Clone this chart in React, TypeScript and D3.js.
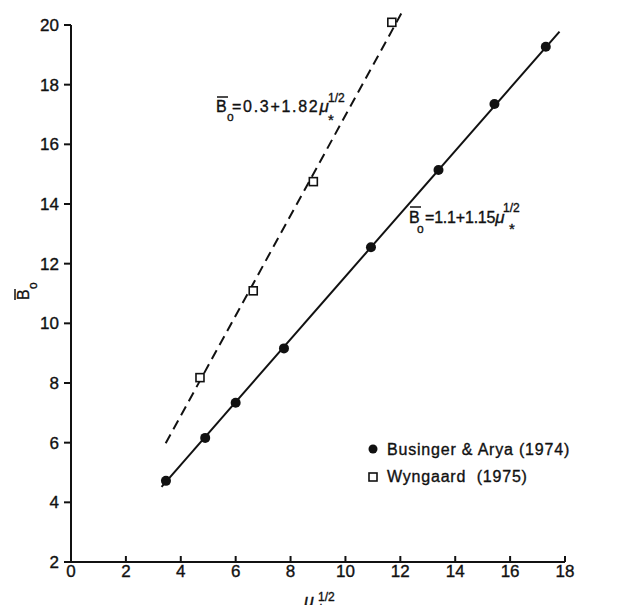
import React from "react";
import * as d3 from "d3";

// Data
const xTicks = [0, 2, 4, 6, 8, 10, 12, 14, 16, 18];
const yTicks = [2, 4, 6, 8, 10, 12, 14, 16, 18, 20];

const busingerX = [3.46, 4.89, 6.0, 7.76, 10.93, 13.39, 15.43, 17.3];
const busingerY = [4.72, 6.16, 7.34, 9.16, 12.55, 15.14, 17.35, 19.27];

const wyngaardX = [4.7, 6.64, 8.83, 11.69];
const wyngaardY = [8.18, 11.09, 14.75, 20.09];

// fitted lines (endpoints)
const solidLineX = [3.3, 17.8];
const solidLineY = [4.52, 19.78];
const dashedLineX = [3.45, 12.05];
const dashedLineY = [5.98, 20.41];

const legendLabels = ["Businger & Arya (1974)", "Wyngaard  (1975)"];

const W = 633;
const H = 605;
const FONT = "'Liberation Sans', Arial, sans-serif";

export default function App() {
  const x = d3.scaleLinear().domain([0, 18]).range([71, 565]);
  const y = d3.scaleLinear().domain([2, 20]).range([562, 25]);
  const line = d3
    .line<[number, number]>()
    .x((d) => x(d[0]))
    .y((d) => y(d[1]));

  const solidPts: [number, number][] = solidLineX.map((v, i) => [v, solidLineY[i]]);
  const dashedPts: [number, number][] = dashedLineX.map((v, i) => [v, dashedLineY[i]]);

  const ink = "#111";
  const bold = { stroke: ink, strokeWidth: 0.35 };

  return (
    <svg
      width={W}
      height={H}
      style={{ position: "absolute", left: 0, top: 0, background: "#fff" }}
      fontFamily={FONT}
    >
      <rect width={W} height={H} fill="#fff" />
      {/* axes */}
      <line x1={x(0)} x2={x(18)} y1={y(2)} y2={y(2)} stroke={ink} strokeWidth={2} />
      <line x1={x(0)} x2={x(0)} y1={y(2)} y2={y(20)} stroke={ink} strokeWidth={2} />
      {xTicks.map((t) => (
        <g key={"xt" + t}>
          <line x1={x(t)} x2={x(t)} y1={y(2)} y2={y(2) - 6} stroke={ink} strokeWidth={2} />
          <text x={x(t)} y={577} textAnchor="middle" fontSize={17} fill={ink} {...bold}>
            {t}
          </text>
        </g>
      ))}
      {yTicks.map((t) => (
        <g key={"yt" + t}>
          <line x1={x(0) - 7} x2={x(0)} y1={y(t)} y2={y(t)} stroke={ink} strokeWidth={2} />
          <text x={x(0) - 12} y={y(t)} dy="0.36em" textAnchor="end" fontSize={17} fill={ink} {...bold}>
            {t}
          </text>
        </g>
      ))}

      {/* lines */}
      <path d={line(solidPts) || ""} fill="none" stroke={ink} strokeWidth={2} />
      <path d={line(dashedPts) || ""} fill="none" stroke={ink} strokeWidth={2} strokeDasharray="10 6" />

      {/* markers */}
      {busingerX.map((v, i) => (
        <circle key={"b" + i} cx={x(v)} cy={y(busingerY[i])} r={5} fill={ink} />
      ))}
      {wyngaardX.map((v, i) => (
        <rect
          key={"w" + i}
          x={x(v) - 4}
          y={y(wyngaardY[i]) - 4}
          width={8}
          height={8}
          fill="#fff"
          stroke={ink}
          strokeWidth={1.6}
        />
      ))}

      {/* equation 1 */}
      <g fill={ink} fontSize={16} {...bold}>
        <line x1={217} x2={228} y1={97} y2={97} stroke={ink} strokeWidth={1.5} />
        <text x={216} y={112}>B</text>
        <text x={227} y={121} fontSize={12}>o</text>
        <text x={232} y={112} letterSpacing={1.7}>
          =0.3+1.82<tspan fontStyle="italic" fontSize={17}>μ</tspan>
        </text>
        <text x={328} y={102} fontSize={12}>1/2</text>
        <text x={328} y={125} fontSize={15}>*</text>
      </g>

      {/* equation 2 */}
      <g fill={ink} fontSize={16} {...bold}>
        <line x1={410} x2={421} y1={207} y2={207} stroke={ink} strokeWidth={1.5} />
        <text x={409} y={223}>B</text>
        <text x={417} y={233} fontSize={12}>o</text>
        <text x={425} y={223} letterSpacing={-0.2}>
          =1.1+1.15<tspan fontStyle="italic" fontSize={17}>μ</tspan>
        </text>
        <text x={503} y={212} fontSize={12}>1/2</text>
        <text x={509} y={234} fontSize={15}>*</text>
      </g>

      {/* legend */}
      <circle cx={373} cy={449} r={4.5} fill={ink} />
      <rect x={369} y={473} width={8} height={8} fill="#fff" stroke={ink} strokeWidth={1.6} />
      <text x={387} y={455} fontSize={16} fill={ink} letterSpacing={0.8} {...bold}>
        {legendLabels[0]}
      </text>
      <text x={387} y={482} fontSize={16} fill={ink} letterSpacing={0.8} style={{ whiteSpace: "pre" }} {...bold}>
        {legendLabels[1]}
      </text>

      {/* y axis label */}
      <g transform="translate(29,300) rotate(-90)" fill={ink} {...bold}>
        <line x1={0} x2={11} y1={-14} y2={-14} stroke={ink} strokeWidth={1.5} />
        <text x={0} y={0} fontSize={16}>B</text>
        <text x={11} y={8} fontSize={12}>o</text>
      </g>

      {/* x axis label */}
      <g fill={ink} {...bold}>
        <text x={304} y={607} fontSize={18} fontStyle="italic">μ</text>
        <text x={318} y={601} fontSize={12}>1/2</text>
        <text x={318} y={614} fontSize={15}>*</text>
      </g>
    </svg>
  );
}
